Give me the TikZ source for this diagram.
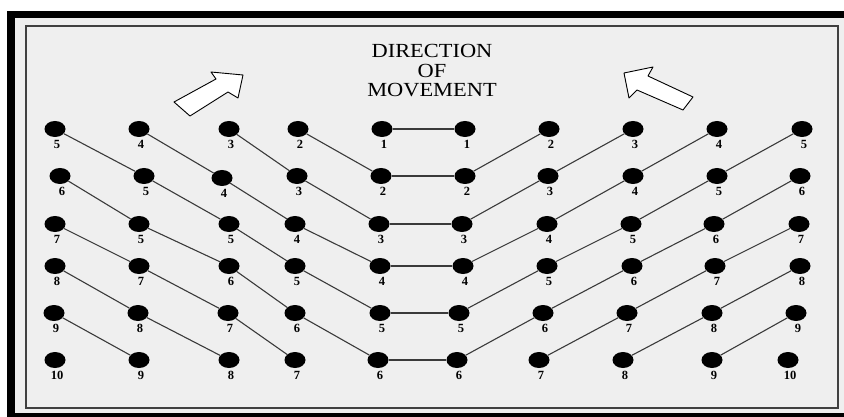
\documentclass[tikz,border=0pt]{standalone}
\usepackage{fontspec}
\setmainfont{Liberation Serif}
\usetikzlibrary{shapes.geometric}
\definecolor{bg}{HTML}{EFEFEF}
\definecolor{ln}{HTML}{3A3A3A}
\begin{document}
\begin{tikzpicture}[x=1pt,y=-1pt,
  dot/.style={ellipse,fill=black,draw=none,minimum width=21pt,minimum height=16pt,inner sep=0pt},
  num/.style={font=\fontsize{12.5}{13}\selectfont\bfseries,inner sep=0pt},
  link/.style={draw=ln,line width=1.1pt},
  blockarrow/.style={fill=white,draw=black,line width=0.9pt,line join=round},
  title/.style={font=\fontsize{20}{19.5}\selectfont,align=center,inner sep=0pt,xscale=1.12,transform shape}]
\useasboundingbox (0,0) rectangle (844,417);
\fill[white] (0,0) rectangle (844,417);
\fill[black] (7,11) rectangle (844,417);
\fill[bg] (15,18) rectangle (844,413);
\draw[line width=1.6pt,draw=black!75] (26,26) rectangle (838,408);

% title
\node[title] (title) at (432,71) {DIRECTION\\OF\\MOVEMENT};

% block arrows
\draw[blockarrow] (174,102) -- (216,79) -- (211,72) -- (243,75) -- (238,98) -- (228,92) -- (190,116) -- cycle;
\draw[blockarrow] (624,73) -- (653,67) -- (648,76) -- (693,97) -- (683,110) -- (637,90) -- (629,98) -- cycle;

% row 1
\foreach \x/\y/\n [count=\c] in {55/129/5,139/129/4,229/129/3,298/129/2,382/129/1,465/129/1,549/129/2,633/129/3,717/129/4,802/129/5}{
  \node[dot] (d1-\c) at (\x,\y) {};
  \node[num] (n1-\c) at (\x+2,\y+15) {\n};
}
% row 2
\foreach \x/\y/\n [count=\c] in {60/176/6,144/176/5,222/178/4,297/176/3,381/176/2,465/176/2,548/176/3,633/176/4,717/176/5,800/176/6}{
  \node[dot] (d2-\c) at (\x,\y) {};
  \node[num] (n2-\c) at (\x+2,\y+15) {\n};
}
% row 3
\foreach \x/\y/\n [count=\c] in {55/224/7,139/224/5,229/224/5,295/224/4,379/224/3,462/224/3,547/224/4,631/224/5,714/224/6,799/224/7}{
  \node[dot] (d3-\c) at (\x,\y) {};
  \node[num] (n3-\c) at (\x+2,\y+15) {\n};
}
% row 4
\foreach \x/\y/\n [count=\c] in {55/266/8,139/266/7,229/266/6,295/266/5,380/266/4,463/266/4,547/266/5,632/266/6,715/266/7,800/266/8}{
  \node[dot] (d4-\c) at (\x,\y) {};
  \node[num] (n4-\c) at (\x+2,\y+15) {\n};
}
% row 5
\foreach \x/\y/\n [count=\c] in {54/313/9,138/313/8,228/313/7,295/313/6,380/313/5,459/313/5,543/313/6,627/313/7,712/313/8,796/313/9}{
  \node[dot] (d5-\c) at (\x,\y) {};
  \node[num] (n5-\c) at (\x+2,\y+15) {\n};
}
% row 6
\foreach \x/\y/\n [count=\c] in {55/360/10,139/360/9,229/360/8,295/360/7,378/360/6,457/360/6,539/360/7,623/360/8,712/360/9,788/360/10}{
  \node[dot] (d6-\c) at (\x,\y) {};
  \node[num] (n6-\c) at (\x+2,\y+15) {\n};
}

% left diagonals
\draw[link] (d1-1) -- (d2-2) -- (d3-3) -- (d4-4) -- (d5-5);
\draw[link] (d1-2) -- (d2-3) -- (d3-4) -- (d4-5);
\draw[link] (d1-3) -- (d2-4) -- (d3-5);
\draw[link] (d1-4) -- (d2-5);
\draw[link] (d2-1) -- (d3-2) -- (d4-3) -- (d5-4) -- (d6-5);
\draw[link] (d3-1) -- (d4-2) -- (d5-3) -- (d6-4);
\draw[link] (d4-1) -- (d5-2) -- (d6-3);
\draw[link] (d5-1) -- (d6-2);
% horizontals
\foreach \r in {1,...,6}{
  \draw[link] (d\r-5) -- (d\r-6);
}
% right diagonals
\draw[link] (d2-6) -- (d1-7);
\draw[link] (d3-6) -- (d2-7) -- (d1-8);
\draw[link] (d4-6) -- (d3-7) -- (d2-8) -- (d1-9);
\draw[link] (d5-6) -- (d4-7) -- (d3-8) -- (d2-9) -- (d1-10);
\draw[link] (d6-6) -- (d5-7) -- (d4-8) -- (d3-9) -- (d2-10);
\draw[link] (d6-7) -- (d5-8) -- (d4-9) -- (d3-10);
\draw[link] (d6-8) -- (d5-9) -- (d4-10);
\draw[link] (d6-9) -- (d5-10);
\end{tikzpicture}
\end{document}
